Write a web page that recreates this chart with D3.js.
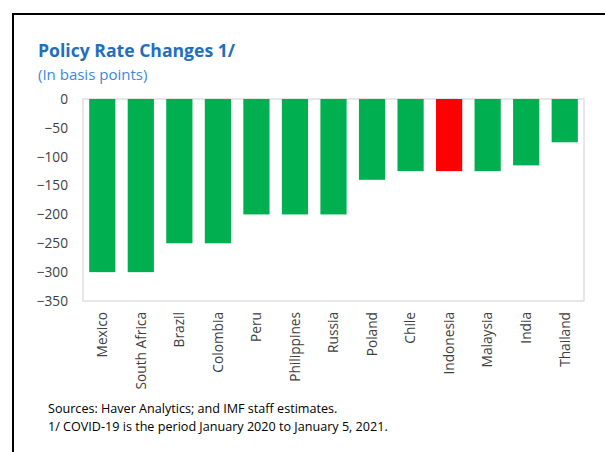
<!DOCTYPE html>
<html><head><meta charset="utf-8">
<script src="https://cdn.jsdelivr.net/npm/d3@7"></script>
<style>body{margin:0;background:#fff}svg{display:block}</style>
</head><body>
<svg id="c" width="605" height="452"></svg>
<script>
const categories = ["Mexico","South Africa","Brazil","Colombia","Peru","Philippines","Russia","Poland","Chile","Indonesia","Malaysia","India","Thailand"];
const values = [-300,-300,-250,-250,-200,-200,-200,-140,-125,-125,-125,-115,-75];
const highlight = ["Indonesia"];
const yTicks = [0,-50,-100,-150,-200,-250,-300,-350];

const svg = d3.select("#c");
const font = "'Segoe UI','Open Sans','Noto Sans',sans-serif";
// frame
svg.append("path").attr("d","M13,452 V14 H605").attr("fill","none").attr("stroke","#000").attr("stroke-width",2);

const m = {l:83, r:584, t:99, b:301};
const x = d3.scaleBand().domain(categories).range([m.l,m.r]).paddingInner(0.32).paddingOuter(0.16);
const y = d3.scaleLinear().domain([0,-350]).range([m.t,m.b]);

svg.append("rect").attr("x",m.l).attr("y",m.t).attr("width",m.r-m.l).attr("height",m.b-m.t)
  .attr("fill","none").attr("stroke","#d0d0d0").attr("stroke-width",1);

svg.append("g").selectAll("rect").data(categories).join("rect")
  .attr("x",d=>x(d)).attr("width",x.bandwidth())
  .attr("y",y(0)).attr("height",(d,i)=>y(values[i])-y(0))
  .attr("fill",d=>highlight.includes(d)?"#ff0000":"#00b050");

const ya = svg.append("g").attr("transform",`translate(${m.l},0)`)
  .call(d3.axisLeft(y).tickValues(yTicks).tickSize(0).tickPadding(15).tickFormat(d3.format("d")));
ya.select(".domain").remove();
ya.selectAll("text").attr("font-family",font).attr("font-size",13.7).attr("fill","#404040");

const xa = svg.append("g").attr("transform",`translate(0,${m.b})`)
  .call(d3.axisBottom(x).tickSize(0).tickPadding(0));
xa.select(".domain").remove();
xa.selectAll("text").attr("font-family",font).attr("font-size",13.7).attr("fill","#404040")
  .attr("transform","rotate(-90)").attr("text-anchor","end").attr("dy","0.35em").attr("x",-11).attr("y",0);

svg.append("text").attr("x",38).attr("y",57).text("Policy Rate Changes 1/")
  .attr("font-family",font).attr("font-size",17.6).attr("font-weight","bold").attr("fill","#1f6fc0");
svg.append("text").attr("x",38).attr("y",80).text("(In basis points)")
  .attr("font-family",font).attr("font-size",15).attr("fill","#3a8ad8");

svg.append("text").attr("x",48).attr("y",413).text("Sources: Haver Analytics; and IMF staff estimates.")
  .attr("font-family",font).attr("font-size",12.6).attr("fill","#000");
svg.append("text").attr("x",48).attr("y",431).text("1/ COVID-19 is the period January 2020 to January 5, 2021.")
  .attr("font-family",font).attr("font-size",12.6).attr("fill","#000");
</script>
</body></html>
